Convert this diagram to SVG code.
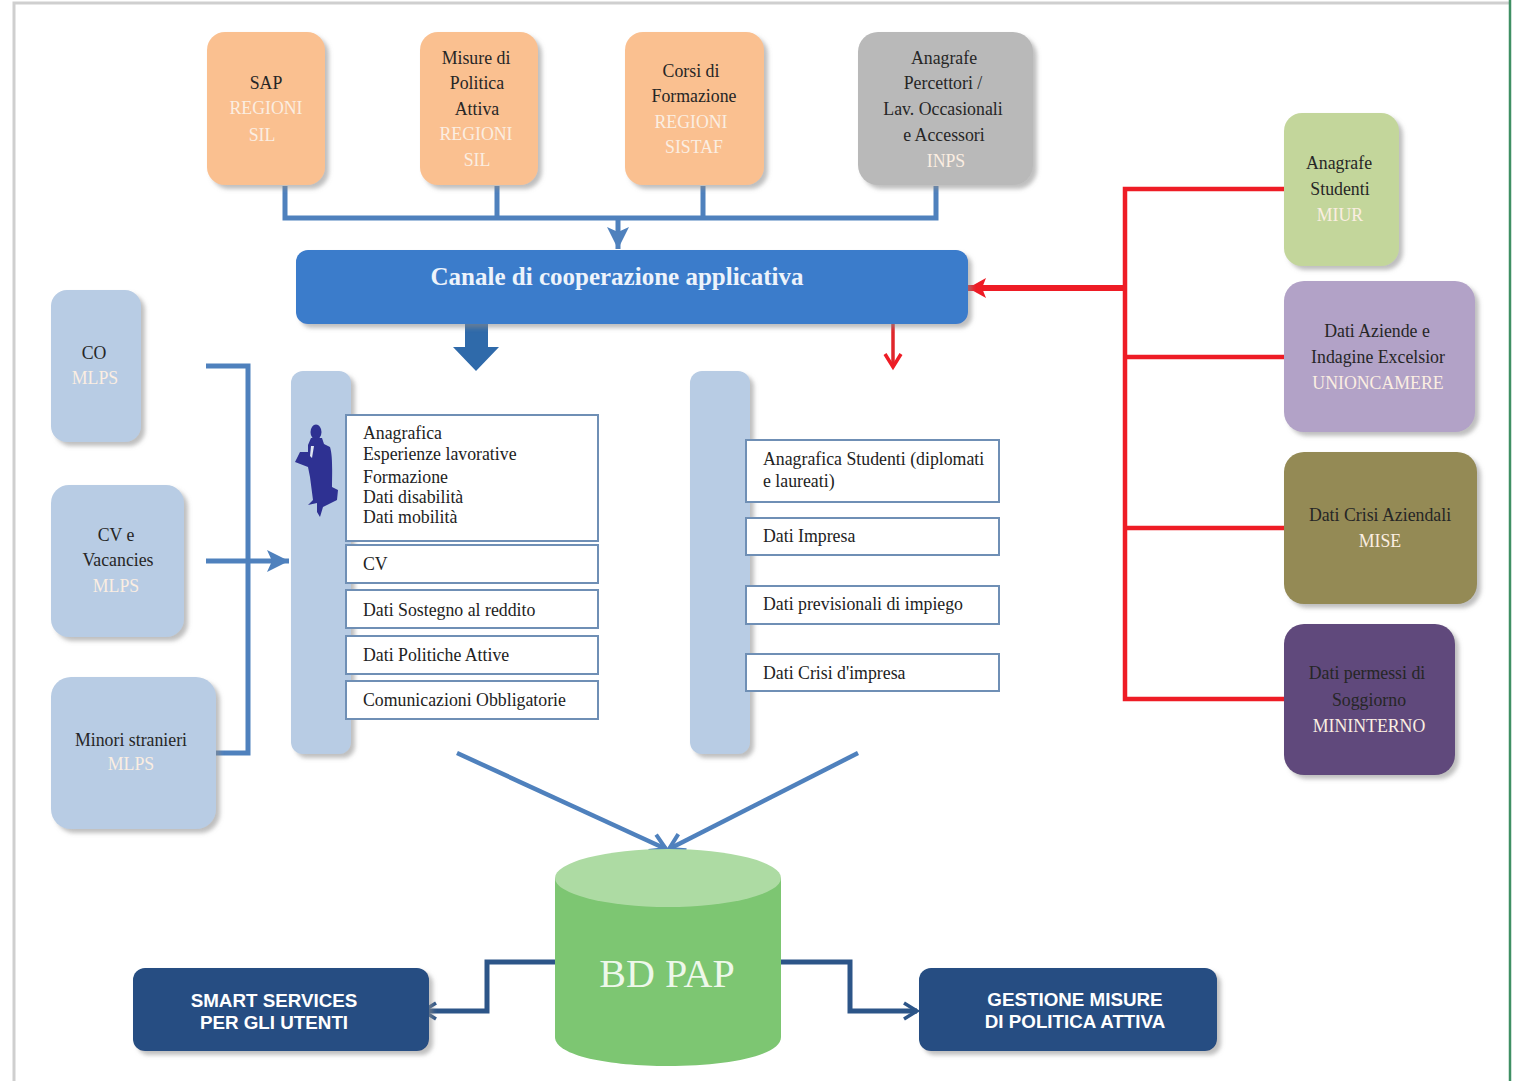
<svg xmlns="http://www.w3.org/2000/svg" width="1517" height="1081" viewBox="0 0 1517 1081">
<defs>
<style>
text{font-family:"Liberation Serif","Times New Roman",serif;font-size:17.8px;text-anchor:middle;fill:#262626}
.w{fill:#fbeee2}
.l{text-anchor:start;fill:#222}
.box{filter:url(#sh)}
.lb{fill:#fff;stroke:#6f8fb5;stroke-width:2}
.blue{fill:none;stroke:#4f81bd;stroke-width:5}
.red{fill:none;stroke:#ee1c25;stroke-width:4.5}
.navy{fill:none;stroke:#2c5588;stroke-width:5}
.sans{font-family:"Liberation Sans",Arial,sans-serif;font-weight:bold;font-size:18.8px;fill:#fff}
</style>
<filter id="sh" x="-15%" y="-15%" width="130%" height="130%"><feDropShadow dx="4" dy="4" stdDeviation="2" flood-color="#8a8a8a" flood-opacity="0.55"/></filter>
<marker id="ab" markerUnits="userSpaceOnUse" markerWidth="30" markerHeight="30" refX="26" refY="15" orient="auto"><path d="M4 4L26 15L4 26L9 15Z" fill="#4f81bd"/></marker>
<marker id="ao" markerUnits="userSpaceOnUse" markerWidth="24" markerHeight="24" refX="20" refY="12" orient="auto"><path d="M5 3L20 12L5 21" fill="none" stroke="#4f81bd" stroke-width="4"/></marker>
<marker id="an" markerUnits="userSpaceOnUse" markerWidth="24" markerHeight="24" refX="20" refY="12" orient="auto"><path d="M7 4L20 12L7 20" fill="none" stroke="#2c5588" stroke-width="3.5"/></marker>
<marker id="ar" markerUnits="userSpaceOnUse" markerWidth="26" markerHeight="26" refX="22" refY="13" orient="auto"><path d="M4 3L22 13L4 23L8 13Z" fill="#ee1c25"/></marker>
<marker id="ar2" markerUnits="userSpaceOnUse" markerWidth="24" markerHeight="24" refX="20" refY="12" orient="auto"><path d="M7 4L20 12L7 20" fill="none" stroke="#ee1c25" stroke-width="3.5"/></marker>
</defs>
<rect width="1517" height="1081" fill="#fff"/>
<g id="page-frame" fill="none">
<path d="M14 1081V3H1509" stroke="#cfcfcf" stroke-width="3"/>
<path d="M1510 0V1081" stroke="#3f8f63" stroke-width="2.5"/>
</g>

<g id="connectors">
<path class="blue" d="M285 186V218H936V186M497 186V218M703 186V218"/>
<path class="blue" d="M618 218V249" marker-end="url(#ab)"/>
<path d="M465 324H488V347H499L476 371L453 347H465Z" fill="#2f6aaa"/>
<path class="red" d="M1284 189H1125V699H1284M1125 357H1284M1125 528H1284"/>
<path d="M1125 288H968" fill="none" stroke="#ee1c25" stroke-width="6" marker-end="url(#ar)"/>
<path d="M893 324V367" fill="none" stroke="#e0262b" stroke-width="3.5" marker-end="url(#ar2)"/>
<path class="blue" d="M206 366H248V753H206"/>
<path class="blue" d="M206 561H289" marker-end="url(#ab)"/>
<path d="M457 753L666 849" fill="none" stroke="#4f81bd" stroke-width="4.5" marker-end="url(#ao)"/>
<path d="M858 753L669 849" fill="none" stroke="#4f81bd" stroke-width="4.5" marker-end="url(#ao)"/>
<path class="navy" d="M555 962H487V1011H423" marker-end="url(#an)"/>
<path class="navy" d="M780 962H850V1011H917" marker-end="url(#an)"/>
</g>

<g id="n-sap"><rect class="box" x="207" y="32" width="118" height="153" rx="18" fill="#fac090"/><text x="266" y="89">SAP</text><text class="w" x="266" y="114">REGIONI</text><text class="w" x="262" y="141">SIL</text></g>
<g id="n-misure"><rect class="box" x="420" y="32" width="118" height="153" rx="18" fill="#fac090"/><text x="476" y="64">Misure di</text><text x="477" y="89">Politica</text><text x="477" y="115">Attiva</text><text class="w" x="476" y="140">REGIONI</text><text class="w" x="477" y="166">SIL</text></g>
<g id="n-corsi"><rect class="box" x="625" y="32" width="139" height="153" rx="18" fill="#fac090"/><text x="691" y="77">Corsi di</text><text x="694" y="102">Formazione</text><text class="w" x="691" y="128">REGIONI</text><text class="w" x="694" y="153">SISTAF</text></g>
<g id="n-anagrafe"><rect class="box" x="858" y="32" width="175" height="153" rx="20" fill="#b9b9b9"/><text x="944" y="64">Anagrafe</text><text x="943" y="89">Percettori /</text><text x="943" y="115">Lav. Occasionali</text><text x="944" y="141">e Accessori</text><text class="w" x="946" y="167">INPS</text></g>

<g id="n-canale"><rect class="box" x="296" y="250" width="672" height="74" rx="12" fill="#3b7bcb"/><text x="617" y="285" style="font-size:25px;font-weight:bold;fill:#edf3fb">Canale di cooperazione applicativa</text></g>

<g id="n-co"><rect class="box" x="51" y="290" width="90" height="152" rx="16" fill="#b8cce4"/><text x="94" y="359">CO</text><text class="w" x="95" y="384">MLPS</text></g>
<g id="n-cv"><rect class="box" x="51" y="485" width="133" height="152" rx="18" fill="#b8cce4"/><text x="116" y="541">CV e</text><text x="118" y="566">Vacancies</text><text class="w" x="116" y="592">MLPS</text></g>
<g id="n-minori"><rect class="box" x="51" y="677" width="165" height="152" rx="20" fill="#b8cce4"/><text x="131" y="746">Minori stranieri</text><text class="w" x="131" y="770">MLPS</text></g>

<g id="n-bar-left">
<rect class="box" x="291" y="371" width="60" height="383" rx="12" fill="#b8cce4"/>
<ellipse cx="316" cy="432" rx="5.5" ry="7.5" fill="#2e3192"/>
<path d="M311 438L322 438L324 444L330 447C333 456 332 475 332 487L338 490L337 500L323 507L320 517L317 512L317 503L308 505L313 500L310 477L308 467L295 462L300 452L308 452L308 445Z" fill="#2e3192"/>
<path d="M311 446L314 446L312 458L310 456Z" fill="#dfe6f2"/>
</g>
<g id="n-dati-persona"><rect class="lb" x="346" y="415" width="252" height="126"/>
<text class="l" x="363" y="439">Anagrafica</text><text class="l" x="363" y="460">Esperienze lavorative</text><text class="l" x="363" y="483">Formazione</text><text class="l" x="363" y="503">Dati disabilità</text><text class="l" x="363" y="523">Dati mobilità</text></g>
<g id="n-dati-cv"><rect class="lb" x="346" y="545" width="252" height="38"/><text class="l" x="363" y="570">CV</text></g>
<g id="n-dati-sostegno"><rect class="lb" x="346" y="590" width="252" height="38"/><text class="l" x="363" y="616">Dati Sostegno al reddito</text></g>
<g id="n-dati-politiche"><rect class="lb" x="346" y="636" width="252" height="38"/><text class="l" x="363" y="661">Dati Politiche Attive</text></g>
<g id="n-dati-comunicazioni"><rect class="lb" x="346" y="681" width="252" height="38"/><text class="l" x="363" y="706">Comunicazioni Obbligatorie</text></g>

<g id="n-bar-right"><rect class="box" x="690" y="371" width="60" height="383" rx="12" fill="#b8cce4"/></g>
<g id="n-dati-studenti"><rect class="lb" x="746" y="440" width="253" height="62"/><text class="l" x="763" y="465">Anagrafica Studenti (diplomati</text><text class="l" x="763" y="487">e laureati)</text></g>
<g id="n-dati-impresa"><rect class="lb" x="746" y="518" width="253" height="37"/><text class="l" x="763" y="542">Dati Impresa</text></g>
<g id="n-dati-previsionali"><rect class="lb" x="746" y="586" width="253" height="38"/><text class="l" x="763" y="610">Dati previsionali di impiego</text></g>
<g id="n-dati-crisi"><rect class="lb" x="746" y="654" width="253" height="37"/><text class="l" x="763" y="679">Dati Crisi d'impresa</text></g>

<g id="n-studenti"><rect class="box" x="1284" y="113" width="115" height="153" rx="18" fill="#c3d69b"/><text x="1339" y="169">Anagrafe</text><text x="1340" y="195">Studenti</text><text class="w" x="1340" y="221">MIUR</text></g>
<g id="n-aziende"><rect class="box" x="1284" y="281" width="191" height="151" rx="20" fill="#b2a2c7"/><text x="1377" y="337">Dati Aziende e</text><text x="1378" y="363">Indagine Excelsior</text><text class="w" x="1378" y="389">UNIONCAMERE</text></g>
<g id="n-crisi"><rect class="box" x="1284" y="452" width="193" height="152" rx="20" fill="#948a54"/><text x="1380" y="521">Dati Crisi Aziendali</text><text class="w" x="1380" y="547">MISE</text></g>
<g id="n-permessi"><rect class="box" x="1284" y="624" width="171" height="151" rx="20" fill="#604a7b"/><text x="1367" y="679">Dati permessi di</text><text x="1369" y="706">Soggiorno</text><text class="w" x="1369" y="732">MININTERNO</text></g>

<g id="n-bd-pap">
<path d="M555 878V1037C555 1056 610 1066 668 1066C726 1066 781 1056 781 1037V878Z" fill="#7dc672"/>
<ellipse cx="668" cy="878" rx="113" ry="29" fill="#addba3"/>
<text x="667" y="987" style="font-size:40px;fill:#eef8ea">BD PAP</text>
</g>
<g id="n-smart"><rect class="box" x="133" y="968" width="296" height="83" rx="12" fill="#254e82"/><text class="sans" x="274" y="1007">SMART SERVICES</text><text class="sans" x="274" y="1029">PER GLI UTENTI</text></g>
<g id="n-gestione"><rect class="box" x="919" y="968" width="298" height="83" rx="12" fill="#254e82"/><text class="sans" x="1075" y="1006">GESTIONE MISURE</text><text class="sans" x="1075" y="1028">DI POLITICA ATTIVA</text></g>
</svg>
